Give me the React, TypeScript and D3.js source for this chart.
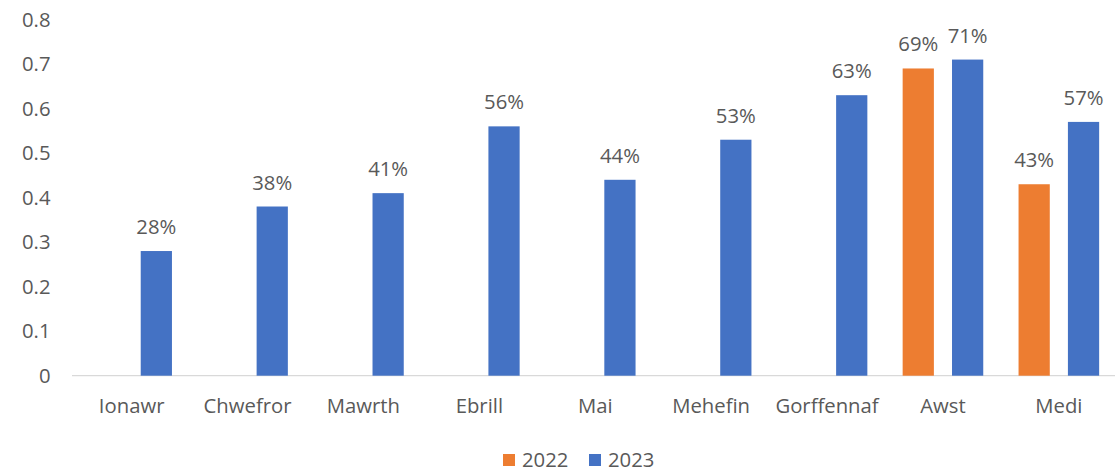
import React from "react";
import * as d3 from "d3";

const categories = ["Ionawr", "Chwefror", "Mawrth", "Ebrill", "Mai", "Mehefin", "Gorffennaf", "Awst", "Medi"];
const seriesNames = ["2022", "2023"];
const values2022: (number | null)[] = [null, null, null, null, null, null, null, 0.69, 0.43];
const values2023: (number | null)[] = [0.28, 0.38, 0.41, 0.56, 0.44, 0.53, 0.63, 0.71, 0.57];
const yTicks = [0, 0.1, 0.2, 0.3, 0.4, 0.5, 0.6, 0.7, 0.8];
const colors = ["#ED7D31", "#4472C4"];

const W = 1115;
const H = 476;
const FONT = "'Open Sans', sans-serif";
const TEXT = "#595959";
const FS = 20.3;

export default function App() {
  const x0 = d3.scaleBand<string>().domain(categories).range([73.7, 1116.8]).paddingInner(0).paddingOuter(0);
  const step = x0.bandwidth();
  const x1 = d3
    .scaleBand<string>()
    .domain(seriesNames)
    .range([step / 2 - 40.3, step / 2 + 40.3])
    .paddingInner(18 / 49);
  const y = d3.scaleLinear().domain([0, 0.8]).range([375.7, 19.5]);
  const seriesData = [values2022, values2023];
  const pct = d3.format(".0%");

  return (
    <svg
      width={W}
      height={H}
      style={{ position: "absolute", left: 0, top: 0, background: "#fff" }}
      fontFamily={FONT}
    >
      {yTicks.map((t) => (
        <text key={t} x={50.5} y={y(t)} dy="0.35em" textAnchor="end" fontSize={FS} fill={TEXT}>
          {t === 0 ? "0" : d3.format(".1f")(t)}
        </text>
      ))}
      <line x1={72} x2={W} y1={y(0)} y2={y(0)} stroke="#D9D9D9" strokeWidth={1.2} />
      {categories.map((c, i) => (
        <g key={c} transform={`translate(${x0(c)},0)`}>
          {seriesData.map((s, si) => {
            const v = s[i];
            if (v == null) return null;
            const bx = x1(seriesNames[si])!;
            return (
              <g key={si}>
                <rect x={bx} y={y(v)} width={x1.bandwidth()} height={y(0) - y(v)} fill={colors[si]} />
                <text
                  x={bx + x1.bandwidth() / 2}
                  y={y(v) - 17}
                  textAnchor="middle"
                  fontSize={FS}
                  fill={TEXT}
                >
                  {pct(v)}
                </text>
              </g>
            );
          })}
          <text x={step / 2} y={406} dy="0.35em" textAnchor="middle" fontSize={FS} fill={TEXT}>
            {c}
          </text>
        </g>
      ))}
      {seriesNames.map((s, i) => {
        const lx = [503, 589][i];
        return (
          <g key={s}>
            <rect x={lx} y={454} width={12} height={12} fill={colors[i]} />
            <text x={lx + 19} y={460} dy="0.35em" fontSize={FS} fill={TEXT}>
              {s}
            </text>
          </g>
        );
      })}
    </svg>
  );
}
